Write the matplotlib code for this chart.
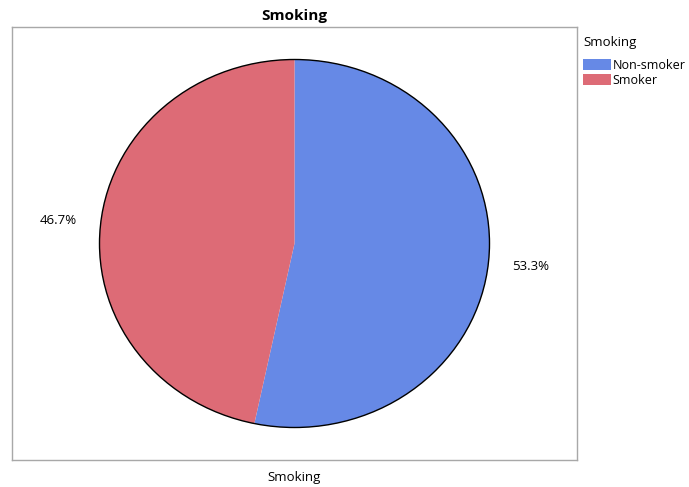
import matplotlib
matplotlib.use('Agg')
import matplotlib.pyplot as plt
from matplotlib.patches import Circle, Patch

plt.rcParams['font.family'] = ['Open Sans', 'DejaVu Sans']

# data
categories = ['Non-smoker', 'Smoker']
shares = [53.3, 46.7]
colors = ['#6689e6', '#dd6b76']

fig = plt.figure(figsize=(6.89, 4.87), dpi=100)
ax = fig.add_axes([12/689, 27/487, 565/689, 433/487])

wedges, texts, autotexts = ax.pie(shares, colors=colors, startangle=90, counterclock=False,
                                  autopct='%.1f%%', pctdistance=1.22,
                                  wedgeprops=dict(linewidth=0), textprops=dict(fontsize=9.5))
# outline of the pie
ax.add_patch(Circle((0, 0), 1, fill=False, edgecolor='black', linewidth=1))

ax.set_aspect('auto')
ax.set_xlim(-565/2/195, 565/2/195)
ax.set_ylim(-433/2/184, 433/2/184)
ax.set_frame_on(True)
for s in ax.spines.values():
    s.set_color('#a8a8a8')
    s.set_linewidth(1)
ax.set_xticks([])
ax.set_yticks([])

ax.set_title('Smoking', fontsize=11, fontweight='bold', pad=5)
ax.set_xlabel('Smoking', fontsize=9.5, labelpad=8)

handles = [Patch(facecolor=c, edgecolor='none') for c in colors]
leg = fig.legend(handles, categories, title='Smoking', loc='upper left', bbox_to_anchor=(583/689, 1 - 36/487),
                 frameon=False, fontsize=9, title_fontsize=9.5, alignment='left',
                 handlelength=2.2, handleheight=1.05, handletextpad=0.15, labelspacing=0.15, borderaxespad=0,
                 borderpad=0)
leg._legend_box.sep = 7

fig.savefig('out.png', dpi=100)
